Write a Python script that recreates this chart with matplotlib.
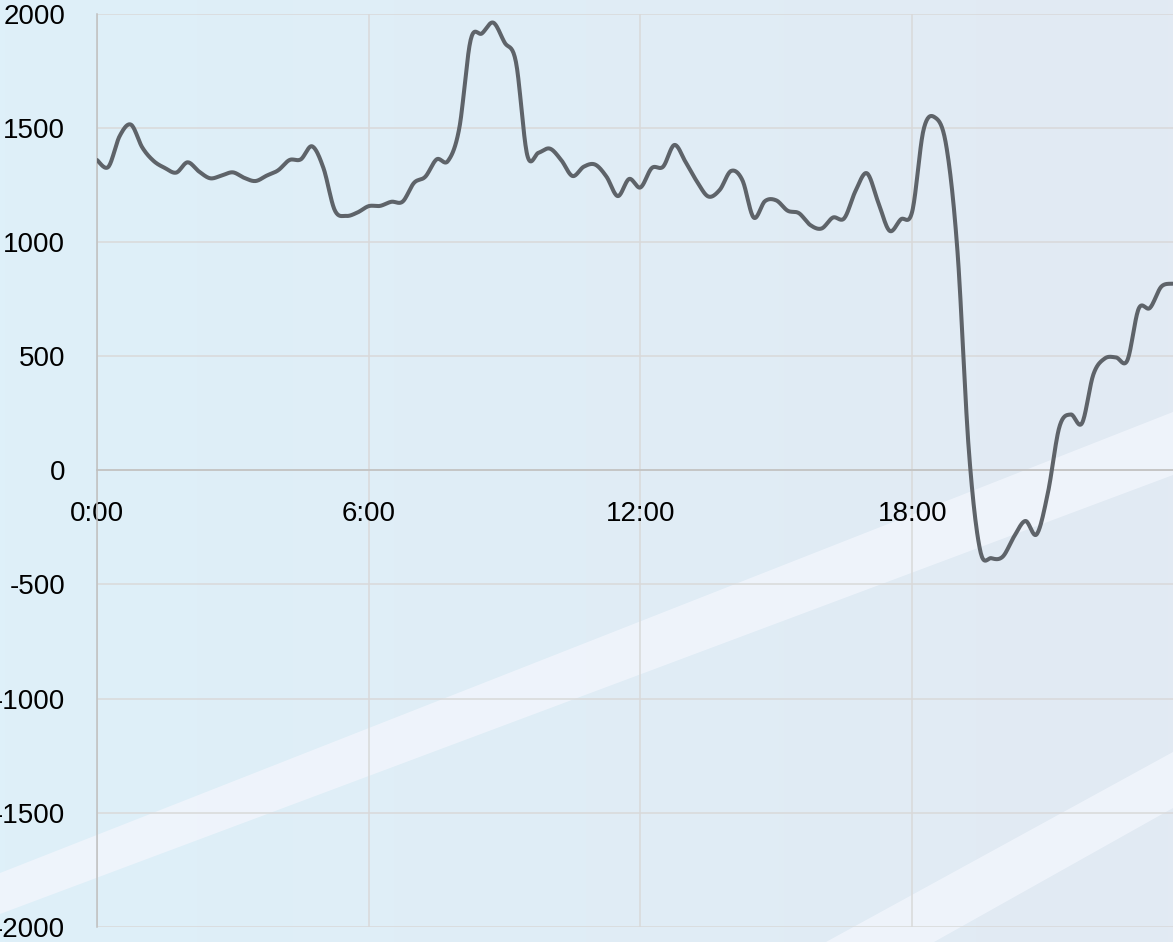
import numpy as np
import matplotlib
matplotlib.use("Agg")
import matplotlib.pyplot as plt
from matplotlib.patches import Polygon

plt.rcParams["font.family"] = ["Liberation Sans", "DejaVu Sans"]
plt.rcParams["axes.unicode_minus"] = False

# 15-minute samples, 0:00 .. 23:45
values = [
    1360, 1330, 1465, 1515, 1415, 1356, 1325, 1305, 1350, 1310, 1280, 1292,
    1306, 1282, 1268, 1292, 1315, 1360, 1363, 1420, 1325, 1140, 1115, 1130,
    1158, 1159, 1177, 1178, 1260, 1287, 1363, 1356, 1500, 1886, 1915, 1962,
    1875, 1790, 1382, 1392, 1410, 1360, 1290, 1331, 1340, 1287, 1202, 1277,
    1240, 1325, 1331, 1426, 1350, 1265, 1200, 1229, 1312, 1272, 1108, 1180,
    1183, 1138, 1127, 1075, 1060, 1108, 1105, 1225, 1302, 1175, 1050, 1100,
    1134, 1492, 1547, 1425, 960, 90, -350, -385, -378, -290, -222, -280,
    -95, 190, 245, 207, 420, 490, 495, 482, 708, 712, 805, 818,
]
tick_pos = [0, 24, 48, 72]
tick_labels = ["0:00", "6:00", "12:00", "18:00"]
y_ticks = [-2000, -1500, -1000, -500, 0, 500, 1000, 1500, 2000]

W, H = 1173, 942
fig = plt.figure(figsize=(W / 100, H / 100), dpi=100)

# background: soft blue gradient with two pale diagonal bands
bg = fig.add_axes([0, 0, 1, 1], zorder=0)
bg.set_xlim(0, W)
bg.set_ylim(H, 0)
bg.axis("off")
c0 = np.array([0xDE, 0xF0, 0xF9]) / 255
c1 = np.array([0xE2, 0xEA, 0xF3]) / 255
grad = np.linspace(0, 1, 256)[None, :, None]
img = c0 * (1 - grad) + c1 * grad
bg.imshow(img, extent=[0, W, H, 0], aspect="auto")
bg.add_patch(Polygon([[0, 873], [W, 412], [W, 475], [0, 914]],
                     closed=True, color="#F1F5FC", alpha=0.85, lw=0))
bg.add_patch(Polygon([[826, H], [W, 752], [W, 808], [934, H]],
                     closed=True, color="#F1F5FC", alpha=0.85, lw=0))

ax = fig.add_axes([97 / W, 1 - 926.7 / H, (1172.6 - 97) / W, (926.7 - 14) / H],
                  zorder=1)
ax.patch.set_alpha(0)

# smooth the polyline like a spreadsheet "smoothed line" (Catmull-Rom in pixel space)
sx, sy = 11.32, 0.2282
P = np.column_stack([np.arange(len(values)) * sx, np.array(values) * sy])
Pp = np.vstack([P[0], P, P[-1]])
t = np.linspace(0, 1, 20)[:, None]
segs = []
for i in range(len(P) - 1):
    p0, p1, p2, p3 = Pp[i], Pp[i + 1], Pp[i + 2], Pp[i + 3]
    b1 = p1 + (p2 - p0) / 6
    b2 = p2 - (p3 - p1) / 6
    seg = ((1 - t) ** 3) * p1 + 3 * ((1 - t) ** 2) * t * b1 + 3 * (1 - t) * t ** 2 * b2 + t ** 3 * p2
    segs.append(seg if i == 0 else seg[1:])
curve = np.vstack(segs)
ax.plot(curve[:, 0] / sx, curve[:, 1] / sy, color="#5E6369", lw=2.9,
        solid_capstyle="round", zorder=3)

ax.set_xlim(0, len(values) - 1)
ax.set_ylim(-2000, 2000)
ax.set_xticks(tick_pos)
ax.set_xticklabels(tick_labels)
ax.set_yticks(y_ticks)
ax.grid(True, color="#D9D9D9", lw=1.1)
ax.set_axisbelow(True)

for s in ["top", "right"]:
    ax.spines[s].set_visible(False)
ax.spines["bottom"].set_position(("data", 0))
ax.spines["bottom"].set_color("#BFBFBF")
ax.spines["bottom"].set_linewidth(1.1)
ax.spines["left"].set_color("#BFBFBF")
ax.spines["left"].set_linewidth(1.1)
ax.tick_params(axis="both", length=0, labelsize=20, colors="black")
ax.tick_params(axis="x", pad=22)
ax.tick_params(axis="y", pad=23)

fig.savefig("out.png", dpi=100)
